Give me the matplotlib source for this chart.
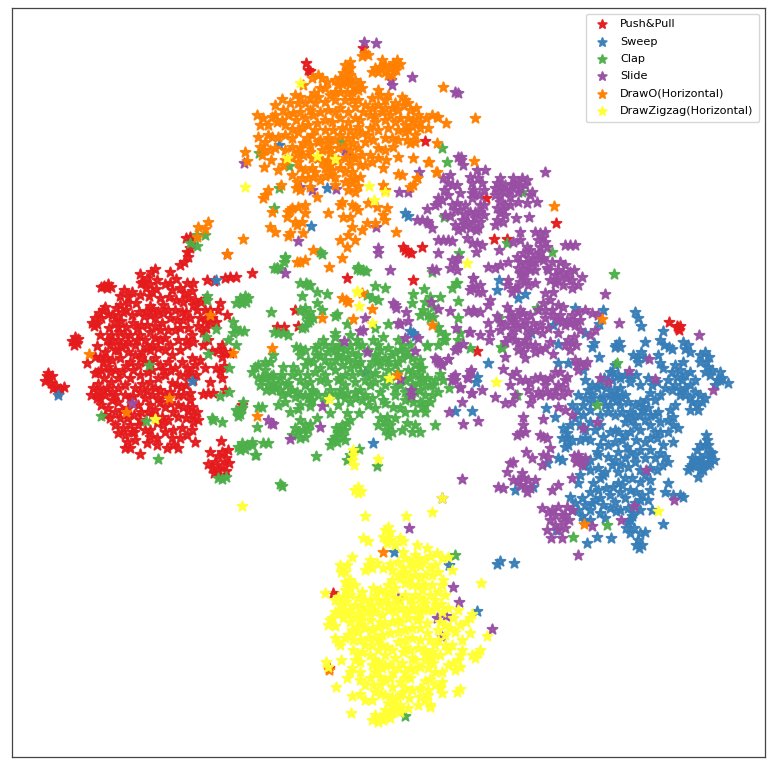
import numpy as np
import matplotlib
matplotlib.use("Agg")
import matplotlib.pyplot as plt

labels = ["Push&Pull", "Sweep", "Clap", "Slide", "DrawO(Horizontal)", "DrawZigzag(Horizontal)"]
colors = ["#e41a1c", "#377eb8", "#4daf4a", "#984ea3", "#ff7f00", "#ffff33"]

# embedding coordinates, as x,y pairs
push_pull = [48,373, 52,376, 45,381, 51,383, 56,386, 60,389, 53,388, 64,387, 49,378, 58,392, 47,376,
 75,337, 72,341, 77,343, 74,345, 78,339, 104,286, 108,284, 111,287, 107,288, 101,287,
 103,310, 99,313, 95,318, 92,323, 101,318, 97,324, 105,307, 94,326, 108,314,
 116,308, 120,305, 123,312, 118,316, 114,322, 121,321, 126,310, 118,327, 128,303, 112,315, 109,328, 111,335,
 136,303, 147,278, 143,282, 150,284, 146,288, 152,292, 149,296, 141,283, 156,289,
 170,283, 165,284, 172,290, 169,297, 176,279, 150,306, 146,311, 153,309, 158,312, 150,315, 144,316, 155,318,
 133,323, 137,329, 162,323, 170,318, 175,310, 182,312, 187,283, 193,283, 184,293, 192,291, 188,298, 183,302, 195,300, 201,302, 205,299, 180,288, 193,305,
 220,303, 218,310, 227,315, 200,318, 205,320, 210,322, 206,328, 198,326, 212,318, 216,322, 203,332,
 188,328, 192,335, 186,340, 193,342, 218,350, 225,352, 212,351, 222,357, 230,353, 222,345,
 216,368, 220,372, 224,366, 222,378, 210,382, 208,393, 203,394, 213,393, 225,390,
 192,358, 195,365, 190,372, 196,375, 187,376, 193,380, 187,368, 177,385, 172,383, 181,387,
 190,393, 190,400, 192,407, 193,415, 183,407, 188,410, 197,412, 193,422, 198,420,
 178,417, 173,430, 182,428, 180,438, 172,438, 178,448, 173,445, 167,448, 195,442,
 157,438, 157,445, 147,443, 140,454, 127,442, 125,435, 134,432, 115,425, 123,428, 130,425, 138,425, 145,430, 135,440,
 157,423, 162,417, 152,415, 165,407, 160,402, 93,388, 98,384, 103,390, 91,395, 97,398, 105,395, 101,405, 112,400, 108,408, 115,395, 118,402, 122,410, 115,412,
 97,346, 100,357, 95,357, 87,363, 98,372, 95,373, 101,370, 107,340, 110,345, 118,340, 125,335, 121,345, 115,350, 128,342,
 135,345, 140,335, 145,340, 150,332, 155,338, 160,330, 165,338, 170,345, 178,340, 180,350, 172,355, 165,350, 158,348, 150,350, 142,352, 135,355, 128,352, 120,358, 112,360, 108,367, 115,370, 122,372, 130,362, 138,365, 145,362, 155,358, 160,365, 168,362, 175,368, 182,362, 148,372, 140,375, 130,378, 125,385, 135,388, 142,384, 150,382, 158,378, 165,375, 170,392, 160,390, 152,395, 145,398, 138,405, 130,398, 128,408, 150,405, 158,398, 170,403,
 190,237, 186,238, 192,240, 187,252, 190,248, 180,265, 184,262, 188,257, 155,269, 170,272, 140,274, 227,254, 252,273, 230,277, 225,278, 236,277, 207,280, 214,281,
 222,452, 218,456, 226,458, 215,462, 222,465, 229,463, 212,468, 218,470, 226,471, 208,464, 214,473, 228,450, 220,475, 210,452, 221,441,
 306,63, 308,70, 310,71, 363,48, 425,141, 403,247, 405,250, 408,252, 411,253, 422,247, 494,239, 347,278, 413,280, 295,310, 277,327, 284,327, 298,326, 486,198, 556,223, 507,239, 477,351, 669,322, 678,328, 679,330, 677,326, 680,326, 333,593, 242,405, 329,668,
 100,335, 105,352, 112,340, 119,332, 126,327, 132,315, 139,312, 141,325, 147,325, 155,326, 163,313, 168,310, 177,320, 180,328, 175,330, 168,330, 160,340, 152,345, 146,347, 137,340, 130,335, 125,345, 118,350, 106,358, 103,362, 110,372, 118,378, 126,366, 133,370, 141,358, 150,362, 152,370, 163,370, 170,370, 180,375, 186,385, 178,395, 165,395, 155,388, 147,390, 140,392, 133,396, 125,395, 118,388, 111,382, 104,378, 107,388, 112,392, 97,391, 100,398, 105,415, 110,418, 120,418, 127,418, 134,415, 141,412, 148,412, 155,410, 163,425, 168,420, 173,412, 178,405, 183,395, 140,420, 132,432, 118,433, 125,448, 130,448, 150,430, 150,437, 165,432, 186,418, 192,430, 187,435, 183,320, 190,318, 197,310, 210,310, 205,310, 186,312, 176,300, 160,298, 163,305, 140,295, 132,292, 128,297, 124,290, 120,296, 157,280, 151,272, 187,345, 203,345, 208,340, 200,360, 205,368]

sweep = [663,331, 645,342, 616,345, 619,342, 620,347, 615,347, 660,340, 664,345, 669,347, 672,349, 683,342, 685,349, 690,352, 688,345, 638,318, 635,312, 641,326,
 700,355, 709,357, 708,367, 710,375, 720,372, 717,380, 728,383, 722,378, 706,362, 712,370, 705,352,
 637,358, 633,355, 638,362, 645,358, 641,352, 660,363, 658,355, 663,368, 677,377, 672,372, 680,370, 690,372, 675,385, 682,380, 685,388, 672,390, 610,372, 604,378, 612,380, 606,388, 615,365, 600,385,
 617,395, 614,390, 620,388, 617,400, 621,397, 625,395, 612,398, 588,390, 592,395, 585,398, 578,395, 597,388,
 643,407, 640,402, 646,400, 642,410, 648,408, 635,405, 650,393, 655,400, 660,395, 665,388, 630,382, 640,385, 648,378,
 697,405, 690,398, 695,392, 700,395, 692,402, 698,410, 702,402, 705,398, 690,410, 673,417, 670,410, 675,405, 668,420, 673,425, 678,428,
 627,417, 622,412, 630,412, 625,422, 632,420, 615,415, 608,412, 600,415, 605,405, 590,410, 577,410, 572,405, 583,415,
 567,433, 563,428, 567,438, 570,425, 568,445, 562,438, 572,440, 565,447, 585,438, 580,440, 590,440, 595,430, 603,437, 610,432, 600,425, 590,422, 615,430,
 615,442, 627,447, 622,440, 630,452, 625,458, 640,430, 636,440, 640,450, 657,438, 650,425, 655,432, 660,422, 663,445, 660,453, 665,457, 655,458, 668,462, 662,465, 673,442,
 608,457, 598,455, 590,460, 585,465, 612,465, 618,472, 605,472, 600,478, 597,452, 628,467, 635,462, 640,470, 632,478, 640,482, 645,475, 650,468,
 603,475, 613,487, 606,488, 618,483, 610,495, 620,492, 625,498, 615,502, 630,490, 636,492, 642,495, 650,490, 648,500, 635,503, 628,508, 640,510,
 593,483, 598,490, 590,492, 578,483, 570,497, 582,498, 575,503, 585,505, 590,510, 578,510, 582,516, 572,510, 592,503, 600,513, 605,518, 603,505, 616,511,
 628,522, 632,516, 626,528, 634,528, 630,533, 640,533, 638,540, 642,545, 636,545, 639,548, 645,532, 633,513, 652,510, 663,524, 668,483, 665,492, 673,495, 683,497, 680,495,
 597,537, 611,538, 587,543, 707,440, 708,445, 710,452, 700,458, 705,455, 710,458, 698,465, 703,462, 708,465, 692,465, 714,460, 688,470, 690,467, 695,460, 698,477, 702,468, 712,453, 706,435,
 558,344, 558,363, 568,363, 599,357, 594,343, 592,347, 585,333, 546,408, 555,417, 531,333, 558,458, 562,460, 547,463, 533,487, 515,490, 556,530, 583,370,
 499,280, 497,290, 518,298, 525,294, 575,308, 603,310, 599,324, 488,363, 477,377, 476,382, 553,325, 413,333, 410,331, 415,336, 405,213, 408,216,
 279,145, 327,188, 311,226, 394,552, 477,611, 497,564, 500,561, 514,563, 449,565, 58,395, 192,381, 216,280, 373,443, 365,372, 455,411, 472,411,
 620,405, 628,402, 635,415, 640,415, 650,415, 658,412, 645,420, 610,405, 600,398, 592,402, 583,405, 575,418, 580,425, 585,430, 600,445, 608,445, 618,452, 615,460, 620,465, 635,455, 645,442, 650,438, 650,450, 645,458, 657,470, 650,480, 625,478, 622,485, 600,498, 610,508, 620,510, 640,500, 630,520, 584,520, 590,520, 595,500, 590,470, 598,468, 580,475, 655,415, 668,432, 660,432, 680,395, 685,395, 690,385, 695,380, 685,375, 680,390, 668,380, 675,365, 683,362, 610,395, 603,397, 652,385, 657,382, 625,375, 630,375, 636,375, 620,378, 625,435, 630,432, 635,425, 618,432, 692,458, 700,445, 697,450, 705,445, 703,470, 710,463, 700,470, 592,385, 585,380, 612,372, 618,375, 720,380, 715,385, 705,372, 700,362]

clap = [243,300, 240,298, 245,296, 246,302, 242,303, 248,298, 236,303, 233,322, 235,328, 233,333, 240,331, 228,340, 236,345, 207,296, 207,300, 190,243, 197,235, 205,235, 197,246, 216,329, 206,337, 208,354, 229,368, 229,392, 220,396, 149,365, 101,416, 146,421, 158,459, 222,422, 212,418, 213,420,
 236,410, 240,414, 242,408, 238,416, 238,412, 243,402, 238,447, 242,443, 247,445, 245,449, 240,450, 252,445, 256,455, 222,479, 218,478, 226,477,
 285,257, 284,262, 277,268, 274,268, 280,269, 300,283, 306,283, 310,285, 308,285, 317,292, 327,294, 302,296, 317,303, 322,310, 305,308, 300,310, 305,315, 310,312, 310,320, 313,318, 308,322, 305,327, 302,328,
 271,312, 337,314, 335,316, 278,333, 283,333, 274,332, 288,335, 244,331, 335,333, 335,337, 323,340, 300,348, 296,347, 305,350, 315,348, 316,355, 313,362, 318,345,
 273,355, 270,362, 265,362, 258,365, 255,367, 252,372, 258,378, 265,378, 283,367, 293,367, 272,383, 268,385, 275,388, 272,390, 278,384, 280,390, 266,390, 273,375, 262,377,
 307,375, 300,380, 305,385, 310,382, 312,390, 315,372, 320,368, 297,392, 292,390, 300,395, 295,397, 288,393, 313,392, 318,395, 312,400, 308,398, 310,402, 310,406,
 327,382, 330,390, 325,375, 335,370, 340,378, 338,380, 345,385, 343,357, 340,348, 345,350, 338,355, 348,360, 352,353, 342,365, 350,345, 355,362, 358,355,
 347,393, 360,390, 365,395, 370,385, 355,382, 352,375, 360,372, 370,375, 375,382, 380,392, 372,398, 362,400, 375,373, 380,365, 385,358, 380,350, 388,348, 375,355,
 388,362, 392,355, 395,365, 388,370, 398,372, 383,377, 383,400, 385,403, 395,388, 403,345, 398,340, 405,352, 383,337, 378,345, 373,340, 357,340, 358,345, 350,335, 375,356,
 412,372, 408,370, 415,365, 420,368, 422,368, 420,360, 427,346, 420,390, 415,392, 412,385, 418,383, 425,395, 430,385, 435,380, 433,385, 427,378, 440,374,
 413,402, 420,402, 425,405, 410,398, 405,392, 422,407, 387,417, 380,418, 385,422, 390,425, 395,418, 385,430, 407,423, 420,432, 412,432, 435,425, 405,412, 393,407,
 300,420, 303,430, 298,432, 305,425, 295,428, 308,430, 292,435, 317,418, 298,409, 290,412, 330,413, 278,405, 262,407, 258,407, 338,405, 359,413, 347,413,
 347,423, 345,430, 342,425, 338,432, 342,436, 335,437, 332,440, 337,442, 333,440, 330,445, 350,420, 255,455, 316,456, 282,486, 280,484, 359,449, 347,460, 350,455, 377,466, 257,427, 263,443, 268,443, 252,442,
 375,286, 385,288, 372,298, 367,295, 378,300, 413,294, 412,303, 424,289, 425,302, 430,297, 440,297, 458,301, 452,288, 456,283, 458,318, 423,310, 420,315, 430,318, 433,317, 438,327, 388,324, 375,328,
 443,340, 438,345, 445,335, 470,348, 460,333, 458,340, 427,345, 457,283, 347,324, 357,269, 360,270, 366,271, 285,258, 277,268, 320,252, 322,254, 358,267, 363,270, 342,142, 259,153, 289,166, 447,162, 442,148, 274,208, 279,188,
 459,253, 507,243, 552,252, 614,274, 522,192, 444,217, 432,272, 499,318, 537,308, 501,347, 617,363, 597,405, 607,525, 573,537, 502,348, 517,395, 455,555, 405,716, 449,388, 433,307, 428,315, 440,332, 445,340,
 300,355, 308,360, 320,355, 325,360, 330,365, 335,360, 335,350, 328,352, 325,345, 305,365, 298,372, 292,375, 288,383, 282,395, 285,402, 280,378, 320,380, 325,395, 335,395, 340,390, 345,375, 350,368, 358,365, 365,380, 368,368, 372,362, 378,360, 385,385, 390,380, 395,395, 400,385, 405,380, 398,362, 402,358, 400,350, 408,355, 412,358, 410,345, 395,352, 410,378, 418,375, 422,378, 425,385, 405,400, 400,408, 415,412, 425,412, 432,395, 438,392, 443,380, 430,402, 368,405, 375,408, 355,398, 350,402, 340,345, 332,345, 362,345, 368,350, 360,362, 305,395, 300,405, 325,402, 340,395, 345,398, 355,392, 282,375, 286,385, 265,370, 260,385, 271,376, 305,437, 300,438, 310,424, 345,440, 340,428, 336,428, 392,432, 388,435, 378,425, 402,430, 415,425]

slide = [461,160, 463,165, 458,157, 477,170, 485,170, 545,172, 443,178, 450,175, 452,185, 448,183, 457,185, 472,183, 482,183, 473,190, 478,178, 470,177, 484,190, 472,193, 479,195, 460,193, 472,198,
 500,178, 500,187, 495,188, 505,185, 497,183, 518,182, 513,178, 522,178, 515,185, 525,185, 520,188, 512,184, 527,180, 518,192, 510,197, 505,205, 500,202, 510,205, 518,202, 527,203, 532,192, 537,202, 530,195, 500,213, 497,220, 503,222, 495,225, 505,215, 516,218, 529,217,
 438,198, 442,200, 438,203, 435,205, 457,203, 452,205, 455,210, 427,209, 450,216, 445,215, 455,225, 475,218, 465,215, 470,212, 480,212, 462,220, 473,222, 480,222, 470,228, 478,228, 484,215, 475,212, 468,222, 476,230, 417,220, 422,220, 427,221, 428,223, 432,228,
 364,42, 376,43, 391,80, 392,85, 412,77, 455,92, 458,93, 244,163, 345,150, 347,155, 300,187, 312,190, 336,189, 399,192, 408,192, 419,172, 298,241, 376,227, 378,248, 378,253, 390,270, 285,273, 461,157,
 443,240, 438,240, 448,240, 452,241, 467,238, 477,243, 472,243, 482,245, 476,252, 438,253, 499,250, 455,263, 450,268, 457,270, 452,260, 458,258, 432,269, 436,270, 488,267, 495,268, 500,265, 508,262, 520,232,
 540,233, 535,232, 542,238, 545,232, 538,240, 545,242, 540,247, 570,245, 565,245, 575,245, 547,247, 543,258, 543,260, 547,268, 527,247, 523,253, 528,258, 525,265, 530,270, 522,275, 526,280, 531,263, 520,262, 517,257, 513,242, 520,240, 520,273, 508,280, 507,285, 515,288, 517,288,
 563,273, 558,270, 566,278, 570,272, 558,280, 572,280, 555,283, 550,280, 563,285, 582,277, 535,283, 545,293, 605,294, 473,278, 480,285, 472,287, 478,292, 470,290, 482,292, 490,300, 488,305, 474,312, 468,311, 480,312,
 507,307, 517,315, 510,318, 520,310, 515,322, 525,320, 512,328, 522,325, 523,313, 533,323, 530,315, 538,310, 540,325, 545,318, 535,330, 543,303, 550,300, 558,305, 563,307, 567,320, 560,315, 572,315, 565,325, 562,322, 570,323, 557,320, 574,322, 592,313, 585,310, 598,315, 595,330, 590,335,
 572,343, 568,340, 576,345, 570,350, 565,345, 574,337, 550,342, 558,333, 553,354, 523,352, 518,350, 525,358, 530,345, 525,340, 508,338, 505,342, 512,335, 489,340, 490,332, 488,323, 469,332, 503,369, 516,372, 505,357,
 458,347, 455,350, 448,359, 438,362, 435,358, 442,365, 455,375, 452,380, 470,372, 468,378, 460,388, 472,393, 482,390, 495,397, 515,395, 580,363, 575,360, 585,365, 578,370, 525,380, 540,377, 535,378, 545,380, 545,385, 563,387, 558,385, 568,392, 565,380, 550,395, 538,392, 567,377, 530,383, 540,395,
 523,417, 523,425, 520,433, 517,435, 525,432, 505,403, 512,402, 530,403, 543,419, 543,437, 540,435, 547,438, 558,407, 565,410, 550,448, 526,452, 532,458, 513,462, 510,463, 548,457, 543,455, 580,460, 578,455, 582,465, 576,462, 542,465,
 522,473, 507,472, 525,487, 520,485, 530,488, 503,488, 498,487, 528,480, 513,480, 572,478, 558,485, 552,490, 542,508, 552,510, 558,507, 562,515, 550,520, 563,522, 558,530, 565,528, 551,538, 562,538, 578,555, 567,507,
 572,415, 583,428, 597,422, 600,378, 608,382, 629,371, 649,359, 655,379, 699,335, 713,390, 619,323, 646,470, 634,506, 674,500, 621,520, 592,526, 577,365, 587,362,
 409,528, 442,498, 398,598, 453,587, 459,602, 437,618, 446,616, 442,637, 492,629, 322,406, 273,424, 271,423, 320,427, 290,439, 268,420, 344,341, 367,352, 360,331, 363,330, 365,318, 400,324, 398,323, 408,321, 393,303, 396,308, 395,305, 406,312, 431,302, 438,309, 450,311, 405,338, 418,338, 415,351, 437,360, 440,363, 448,359, 456,328, 470,332, 457,348, 463,344, 453,377, 455,380, 467,377, 471,370, 400,379, 411,390, 411,395, 460,387, 471,393, 462,402, 449,412, 463,424, 478,421, 462,479, 473,310, 473,278, 473,288, 132,403,
 500,195, 505,192, 510,190, 495,195, 497,208, 503,210, 465,205, 460,210, 448,195, 444,190, 480,205, 484,205, 465,225, 458,230, 462,228, 540,253, 535,255, 530,250, 535,262, 535,270, 525,272, 518,268, 528,285, 520,282, 512,292, 553,292, 548,270, 552,262, 555,275, 560,262, 565,265, 574,270, 578,285, 572,288, 497,316, 500,322, 505,325, 500,330, 510,312, 512,320, 518,328, 527,328, 528,335, 542,333, 548,328, 553,315, 552,310, 545,310, 515,340, 518,343, 525,345, 480,335, 535,345, 540,350, 545,348, 535,352, 575,325, 580,320, 578,312, 580,330, 555,372, 560,372, 550,378, 555,390, 546,392, 528,390, 532,397, 555,395, 562,395, 512,375, 520,380, 510,385, 518,480, 523,478, 527,492, 535,480, 555,515, 548,512, 555,525, 565,515, 569,520, 572,510, 547,530, 578,458, 585,458, 574,456]

draw_o = [365,53, 362,56, 368,55, 380,67, 375,68, 385,65, 378,72, 385,72, 372,72, 388,75, 393,63, 390,68, 397,60, 394,67, 400,64, 347,70, 343,73, 350,75, 345,78, 340,78, 350,68, 342,84, 350,84, 338,85, 318,75, 312,78, 322,78, 327,82, 303,85,
 360,83, 358,90, 362,88, 355,88, 378,90, 314,93, 330,95, 347,93, 352,100, 358,100, 282,99, 300,97, 298,103, 290,103, 305,103, 315,103, 325,102, 335,100, 345,100, 372,98, 385,100, 405,100, 402,97, 408,103, 403,105, 363,112, 370,115, 378,105, 385,108,
 257,115, 272,117, 282,120, 277,122, 285,125, 292,129, 302,127, 293,113, 313,115, 310,110, 320,112, 328,110, 335,112, 340,108, 348,112, 355,107, 317,123, 325,120, 332,122, 340,118, 348,122, 355,118, 308,125, 315,130, 325,130, 333,130, 342,128, 350,130, 358,127,
 413,120, 408,118, 418,115, 420,122, 412,126, 405,125, 400,118, 395,122, 390,115, 385,120, 375,122, 370,128, 378,130, 388,128, 398,130, 408,130, 420,128, 432,115, 437,117, 438,117, 446,123, 475,118, 407,140, 410,143, 415,142, 437,143, 393,147,
 258,137, 272,137, 268,135, 278,137, 260,147, 270,150, 275,148, 292,138, 307,138, 303,143, 310,145, 320,140, 328,138, 335,140, 330,148, 322,150, 353,143, 350,150, 358,148, 365,142, 373,140, 378,148, 385,138, 362,155, 370,155, 355,158,
 245,152, 247,161, 271,160, 297,153, 292,158, 298,162, 312,158, 330,153, 328,160, 325,168, 332,170, 330,175, 325,176, 335,177, 350,165, 345,172, 352,172, 355,178, 352,183, 358,186, 360,177, 383,168, 398,157, 413,158, 386,160, 428,162, 437,172, 474,161,
 264,167, 278,170, 300,168, 312,168, 313,177, 302,178, 297,182, 310,187, 317,197, 398,174, 402,175, 417,178, 413,185, 410,187, 383,185, 385,190, 268,190, 265,195, 263,198, 281,185, 272,212,
 342,202, 340,205, 355,207, 352,205, 358,210, 368,203, 377,207, 298,207, 292,208, 305,205, 288,212, 305,213, 290,210, 287,217, 302,222, 297,225, 295,222, 328,213, 343,217, 350,217, 270,227, 275,232, 290,233, 288,236, 303,233, 243,239,
 352,227, 362,230, 367,223, 375,223, 383,215, 385,220, 387,208, 396,232, 340,240, 355,240, 348,235, 347,247, 313,250, 305,260, 300,262, 297,262, 342,258, 329,267,
 342,298, 346,300, 348,302, 362,293, 353,319, 322,318, 372,309, 272,348, 432,325, 397,375, 257,416, 554,206, 602,319, 429,162, 436,172, 417,178,
 227,254, 210,315, 198,227, 205,229, 197,237, 208,222, 233,353, 89,354, 169,398, 126,412, 584,524, 383,552, 329,670, 443,87,
 300,112, 305,118, 296,120, 288,115, 283,110, 275,105, 298,132, 285,135, 312,135, 318,142, 327,143, 338,148, 345,145, 340,135, 348,138, 355,135, 362,133, 368,135, 375,115, 382,112, 392,108, 398,110, 410,110, 416,108, 360,120, 365,105, 372,108, 335,92, 340,92, 352,92, 318,97, 310,98, 295,95, 320,88, 325,88, 335,80, 348,82, 355,80, 292,147, 300,148, 303,155, 310,152, 318,158, 322,162, 330,165, 338,160, 345,158, 352,157, 340,168, 360,165, 365,165, 372,162, 378,158, 385,150, 392,138, 398,140, 405,132, 415,135, 428,128, 426,118, 305,170, 315,172, 320,180, 335,185, 345,182, 348,190, 350,180, 355,192, 300,190, 296,188, 308,178, 285,150, 265,142, 264,150, 262,155, 285,160, 283,165, 292,175, 260,125, 263,118, 268,125, 275,115, 395,103, 388,95, 380,95, 392,75, 396,70, 382,60, 345,65, 350,62]

draw_zigzag = [358,493, 355,490, 361,491, 358,487, 365,516, 406,516, 432,512, 442,498, 388,527, 385,530, 390,532, 387,537, 383,537, 390,540, 400,538, 395,545, 403,541, 387,543, 363,538, 368,541, 417,545, 427,548, 403,552,
 352,557, 343,568, 340,565, 345,572, 347,565, 341,572, 350,580, 345,582, 368,565, 365,570, 372,568, 377,563, 370,560, 383,568, 390,564, 403,568, 418,558, 416,563, 420,566, 425,560, 415,555, 430,556, 437,553, 435,565, 430,568, 438,572, 448,557, 442,558, 452,570, 443,580, 481,583,
 410,578, 415,575, 420,578, 405,583, 412,585, 422,590, 400,578, 432,585, 392,580, 388,585, 395,588, 385,592, 373,588, 438,592, 325,593, 343,597, 338,597, 350,595, 335,600, 346,602, 362,592, 358,598, 365,600, 355,605, 362,607, 378,600, 380,605, 390,593, 395,598, 388,603, 400,600, 405,595, 410,600, 415,595, 420,598, 425,603,
 423,600, 418,608, 412,610, 423,608, 428,610, 441,604, 458,610, 340,613, 343,618, 335,612, 330,620, 328,625, 335,626, 332,618, 358,613, 355,618, 362,620, 350,622, 370,620, 375,612, 382,615, 388,610, 395,612, 402,608,
 357,627, 352,630, 358,632, 365,628, 372,630, 378,627, 385,625, 392,622, 400,622, 408,618, 417,620, 427,623, 418,618, 470,618, 472,614, 466,622, 453,618, 460,625, 450,628, 455,632, 445,625, 427,633, 420,628, 412,628, 405,630, 398,632, 390,633, 382,635, 375,637, 368,638, 360,640,
 335,638, 340,645, 338,642, 353,650, 341,660, 326,662, 336,687, 351,713, 462,640, 470,633, 487,636, 387,647, 385,655, 392,650, 398,642, 405,640, 412,638, 420,640, 430,640, 438,640, 445,645, 395,658, 403,652, 410,650, 418,648, 425,650, 432,652, 440,655,
 460,655, 458,660, 462,650, 478,653, 475,658, 480,650, 472,655, 453,663, 448,665, 460,667, 455,670, 442,672, 433,663, 425,660, 415,660, 428,668, 435,672, 420,667, 410,668, 402,663,
 355,660, 352,668, 360,662, 350,672, 360,672, 347,678, 375,672, 372,665, 378,662, 370,678, 380,677, 373,685, 376,668, 382,668, 393,673, 405,678, 400,682, 410,678, 425,681, 430,679, 442,682, 440,688, 442,693, 460,689, 457,692,
 392,687, 400,695, 402,693, 352,696, 360,694, 375,692, 381,694, 409,698, 420,697, 425,700, 428,695, 418,705, 430,705, 430,707, 393,707, 388,703, 395,700, 400,705, 392,712, 398,710, 385,710, 380,717, 375,715, 372,720, 385,715, 378,722, 383,720, 390,718,
 353,450, 353,455, 352,460, 354,465, 378,459, 355,490, 329,399, 389,378, 372,323, 359,306, 357,291, 300,83, 245,187, 287,158, 317,156, 335,159, 369,186, 385,192, 374,200, 467,263, 496,382, 658,511, 155,419, 242,506, 357,292, 328,667,
 370,600, 375,595, 380,590, 385,600, 368,610, 372,605, 350,610, 345,610, 340,605, 348,615, 360,625, 348,635, 353,640, 345,638, 365,645, 372,645, 378,650, 370,655, 362,652, 358,655, 375,660, 385,665, 390,665, 398,668, 360,680, 365,685, 385,680, 380,685, 365,700, 372,700, 385,695, 392,697, 400,712, 408,708, 405,688, 412,690, 420,688, 428,690, 435,685, 415,670, 405,672, 398,620, 405,612, 412,603, 420,613, 432,610, 436,605, 442,612, 448,608, 445,595, 435,600, 438,630, 445,635, 435,645, 440,622, 448,650, 452,645, 398,575, 405,572, 425,575, 432,575, 412,568, 405,558, 410,562, 430,595, 442,585, 395,605, 380,622, 370,612, 362,615, 355,585, 350,588, 345,590, 392,570, 398,562, 418,585, 425,585, 382,645, 378,640, 405,648, 412,658, 425,655, 390,678, 432,658]

series = [push_pull, sweep, clap, slide, draw_o, draw_zigzag]

fig = plt.figure(figsize=(7.73, 7.68), dpi=100)
ax = fig.add_axes([12/773, 1 - 757/768, 753/773, 749/768])
for pts, col, lab in zip(series, colors, labels):
    p = np.array(pts).reshape(-1, 2)
    ax.scatter(p[:, 0], p[:, 1], s=56, c=col, marker="*", alpha=0.92, linewidths=1.4, edgecolors="face", label=lab)
ax.set_xlim(12, 765)
ax.set_ylim(757, 8)
ax.set_xticks([])
ax.set_yticks([])
for s in ax.spines.values():
    s.set_linewidth(0.9)
    s.set_color("#444444")
ax.legend(loc="upper right", fontsize=8.15, markerscale=0.85, borderaxespad=0.5,
          labelspacing=0.65, borderpad=0.5, handlelength=1.8, handletextpad=0.75)
fig.savefig("out.png", dpi=100)
